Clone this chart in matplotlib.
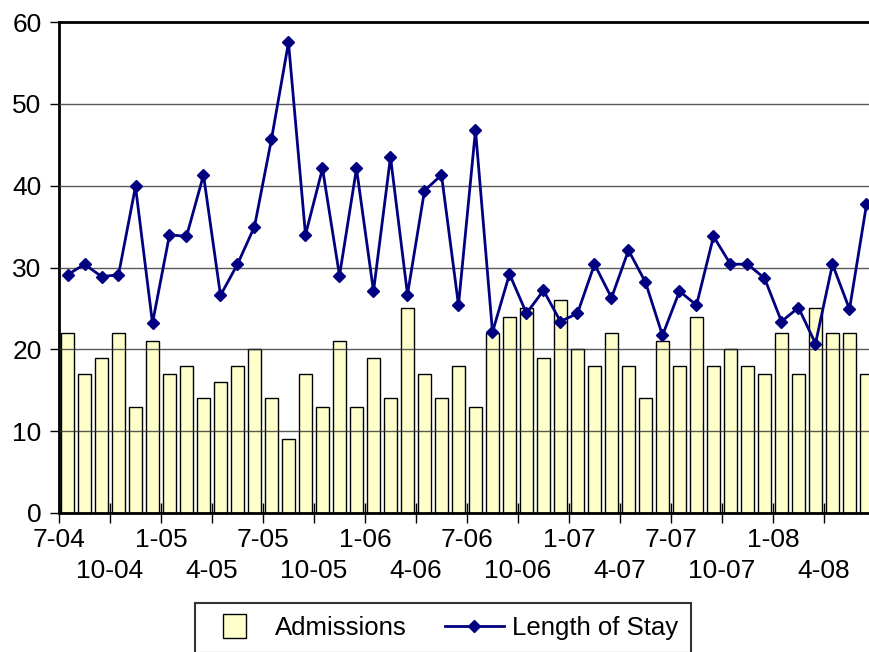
import numpy as np
import matplotlib.pyplot as plt
from matplotlib.patches import Rectangle
from matplotlib.legend_handler import HandlerPatch

plt.rcParams['font.family'] = ['Liberation Sans', 'DejaVu Sans']

# monthly data, 7-04 .. 6-08
admissions = [22, 17, 19, 22, 13, 21, 17, 18, 14, 16, 18, 20,
              14, 9, 17, 13, 21, 13, 19, 14, 25, 17, 14, 18,
              13, 22, 24, 25, 19, 26, 20, 18, 22, 18, 14, 21,
              18, 24, 18, 20, 18, 17, 22, 17, 25, 22, 22, 17]
length_of_stay = [29.1, 30.4, 28.9, 29.1, 39.9, 23.2, 34.0, 33.8, 41.3, 26.6, 30.4, 35.0,
                  45.7, 57.5, 34.0, 42.1, 29.0, 42.1, 27.1, 43.5, 26.7, 39.4, 41.3, 25.4,
                  46.8, 22.1, 29.2, 24.4, 27.2, 23.4, 24.4, 30.4, 26.3, 32.1, 28.2, 21.7,
                  27.1, 25.4, 33.8, 30.4, 30.4, 28.7, 23.4, 25.1, 20.7, 30.4, 24.9, 37.7]
tick_labels = ['7-04', '10-04', '1-05', '4-05', '7-05', '10-05', '1-06', '4-06',
               '7-06', '10-06', '1-07', '4-07', '7-07', '10-07', '1-08', '4-08']


def square_patch(legend, orig_handle, xdescent, ydescent, width, height, fontsize):
    # small square swatch like the Excel legend
    s = height * 1.3
    return Rectangle((-xdescent + width * 0.45 - s / 2, -ydescent + height / 2 - s / 2), s, s)


fig = plt.figure(figsize=(8.7, 6.52), dpi=100)
ax = fig.add_axes([59 / 870, 139 / 652, 816 / 870, 491 / 652])

x = np.arange(len(admissions)) + 0.5
ax.bar(x, admissions, width=0.75, color='#FFFFCC', edgecolor='black',
       linewidth=1, zorder=2)
line, = ax.plot(x, length_of_stay, color='#000080', lw=2, marker='D', markersize=6.5,
                zorder=4, label='Length of Stay')

ax.set_xlim(0, len(admissions))
ax.set_ylim(0, 60)
ax.set_yticks(range(0, 61, 10))
for v in range(10, 60, 10):
    ax.axhline(v, color='#303030', lw=1, alpha=0.8, zorder=3)

# labels alternate between two rows: upper row as major ticks, lower row as minor
ticks = np.arange(0, len(admissions), 3)
ax.set_xticks(ticks[0::2])
ax.set_xticklabels(tick_labels[0::2])
ax.set_xticks(ticks[1::2], minor=True)
ax.set_xticklabels(tick_labels[1::2], minor=True)
ax.tick_params(axis='x', which='both', direction='inout', length=14, width=1, labelsize=19)
ax.tick_params(axis='x', which='major', pad=4)
ax.tick_params(axis='x', which='minor', pad=26)
ax.tick_params(axis='y', direction='out', length=6.5, width=1, labelsize=19, pad=6)

for s in ['left', 'top', 'bottom']:
    ax.spines[s].set_linewidth(2)
ax.spines['right'].set_visible(False)

swatch = Rectangle((0, 0), 1, 1, facecolor='#FFFFCC', edgecolor='black', linewidth=1,
                   label='Admissions')
leg = fig.legend(handles=[swatch, line], loc='upper left',
                 bbox_to_anchor=(195 / 870, 1 - 603 / 652),
                 ncol=2, fontsize=18.5, frameon=True, fancybox=False,
                 edgecolor='black', handlelength=2.3, columnspacing=1.5,
                 borderpad=0.5, borderaxespad=0, handletextpad=0.3,
                 handler_map={Rectangle: HandlerPatch(patch_func=square_patch)})
leg.get_frame().set_linewidth(1.5)

fig.savefig('out.png', dpi=100)
